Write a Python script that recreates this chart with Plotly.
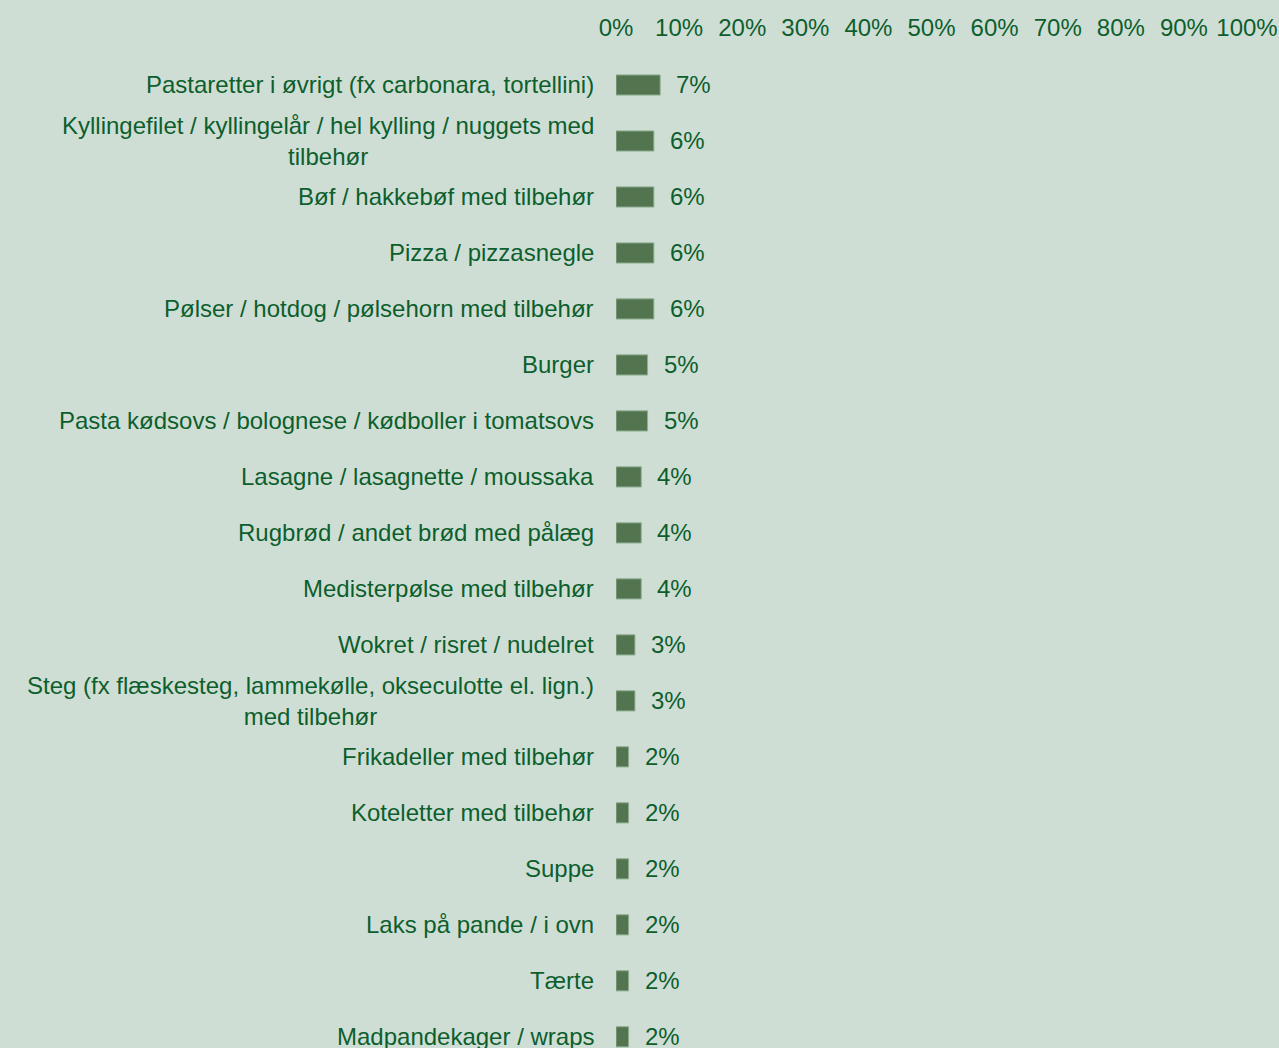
import plotly.graph_objects as go

categories = [
    "Pastaretter i øvrigt (fx carbonara, tortellini)",
    "Kyllingefilet / kyllingelår / hel kylling / nuggets med<br>tilbehør",
    "Bøf / hakkebøf med tilbehør",
    "Pizza / pizzasnegle",
    "Pølser / hotdog / pølsehorn med tilbehør",
    "Burger",
    "Pasta kødsovs / bolognese / kødboller i tomatsovs",
    "Lasagne / lasagnette / moussaka",
    "Rugbrød / andet brød med pålæg",
    "Medisterpølse med tilbehør",
    "Wokret / risret / nudelret",
    "Steg (fx flæskesteg, lammekølle, okseculotte el. lign.)<br>med tilbehør",
    "Frikadeller med tilbehør",
    "Koteletter med tilbehør",
    "Suppe",
    "Laks på pande / i ovn",
    "Tærte",
    "Madpandekager / wraps",
]
values = [7, 6, 6, 6, 6, 5, 5, 4, 4, 4, 3, 3, 2, 2, 2, 2, 2, 2]
value_labels = ["7%", "6%", "6%", "6%", "6%", "5%", "5%", "4%", "4%", "4%",
                "3%", "3%", "2%", "2%", "2%", "2%", "2%", "2%"]
x_ticks = [0, 10, 20, 30, 40, 50, 60, 70, 80, 90, 100]
x_tick_labels = ["0%", "10%", "20%", "30%", "40%", "50%", "60%", "70%", "80%", "90%", "100%"]

BG = "#cfded5"
BAR = "#52754f"
BAR_EDGE = "#8fae92"
TXT = "#0d5e2d"
FONT = "Liberation Sans, Arial, sans-serif"
FS = 24

fig = go.Figure()
fig.add_trace(go.Bar(
    x=values, y=categories, orientation="h",
    marker=dict(color=BAR, line=dict(color=BAR_EDGE, width=1)),
    width=0.36, hoverinfo="skip",
))

annotations = []
for c, v, lab in zip(categories, values, value_labels):
    annotations.append(dict(
        x=v, y=c, xref="x", yref="y", text=lab, showarrow=False,
        xanchor="left", xshift=14, font=dict(family=FONT, size=FS, color=TXT),
    ))
    annotations.append(dict(
        x=0, y=c, xref="paper", yref="y", text=c, showarrow=False,
        xanchor="right", xshift=-20, align="center",
        font=dict(family=FONT, size=FS, color=TXT),
    ))

n = len(categories)
fig.update_layout(
    width=1279, height=1048,
    margin=dict(l=616, r=32, t=57, b=0),
    paper_bgcolor=BG, plot_bgcolor=BG,
    showlegend=False,
    font=dict(family=FONT, size=FS, color=TXT),
    annotations=annotations,
    xaxis=dict(
        side="top", range=[0, 100], tickvals=x_ticks, ticktext=x_tick_labels,
        showgrid=False, zeroline=False, showline=False, ticks="",
        ticklabelstandoff=15,
        tickfont=dict(family=FONT, size=FS, color=TXT), fixedrange=True,
    ),
    yaxis=dict(
        categoryorder="array", categoryarray=categories,
        range=[n - 0.8, -0.5], showticklabels=False,
        showgrid=False, zeroline=False, showline=False, ticks="", fixedrange=True,
    ),
)

fig.write_html(
    "out.html",
    config={"displayModeBar": False},
    post_script="document.body.style.margin='0';document.body.style.background='%s';" % BG,
)
